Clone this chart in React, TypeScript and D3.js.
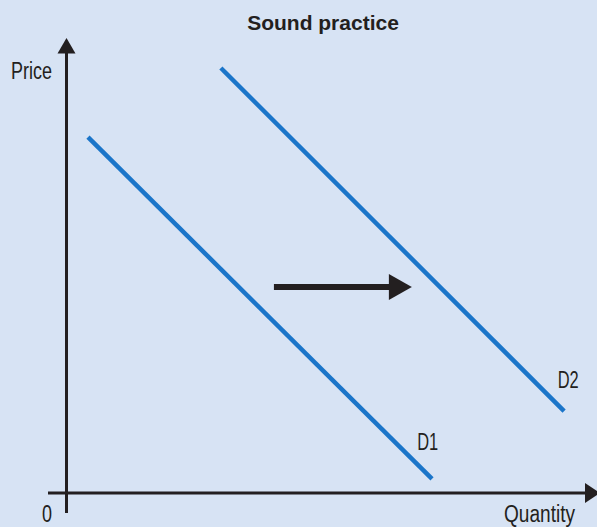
import React from "react";
import * as d3 from "d3";

const W = 597;
const H = 527;

// Abstract quantity/price units (0–100 on each axis)
const demandNames = ["D1", "D2"];
const demandStart = [
  [4.05, 78.2],
  [29.1, 93.4],
];
const demandEnd = [
  [68.9, 3.1],
  [93.8, 18.0],
];
const labelPos = [
  [66.1, 9.5],
  [92.6, 23.1],
];
const shiftArrowX = [39.1, 65.1];
const shiftArrowY = 45.3;

const axisLabels = { y: "Price", x: "Quantity", origin: "0" };
const title = "Sound practice";

const BG = "#d7e3f4";
const INK = "#231f20";
const BLUE = "#1b75c9";
const SANS = "'Liberation Sans', Arial, sans-serif";

function Narrow(props: { x: number; y: number; w: number; anchor?: string; children: string }) {
  return (
    <text
      x={props.x}
      y={props.y}
      textAnchor={props.anchor || "start"}
      fontFamily={SANS}
      fontSize={23}
      fill={INK}
      textLength={props.w}
      lengthAdjust="spacingAndGlyphs"
    >
      {props.children}
    </text>
  );
}

export default function App() {
  const x = d3.scaleLinear().domain([0, 100]).range([66.5, 597]);
  const y = d3.scaleLinear().domain([0, 100]).range([493, 38]);
  const line = d3.line<number[]>().x((d) => x(d[0])).y((d) => y(d[1]));

  const ax0 = x(0);
  const ay0 = y(0);
  const ayTop = y(100);

  const arrX0 = x(shiftArrowX[0]);
  const arrX1 = x(shiftArrowX[1]);
  const arrY = y(shiftArrowY);

  return (
    <svg
      width={W}
      height={H}
      style={{ position: "absolute", left: 0, top: 0, display: "block" }}
    >
      <rect x={0} y={0} width={W} height={H} fill={BG} />
      <text
        x={323}
        y={30}
        textAnchor="middle"
        fontFamily={SANS}
        fontWeight="bold"
        fontSize={21}
        fill={INK}
      >
        {title}
      </text>

      {/* Axes */}
      <line x1={ax0} y1={ayTop + 14} x2={ax0} y2={513} stroke={INK} strokeWidth={3} />
      <path
        d={`M${ax0},${ayTop} L${ax0 + 9},${ayTop + 15.5} L${ax0 - 9},${ayTop + 15.5} Z`}
        fill={INK}
      />
      <line x1={48} y1={ay0} x2={587} y2={ay0} stroke={INK} strokeWidth={3} />
      <path d={`M600,${ay0} L585,${ay0 - 10} L585,${ay0 + 10} Z`} fill={INK} />

      <Narrow x={11} y={79} w={41}>{axisLabels.y}</Narrow>
      <Narrow x={42} y={522} w={10}>{axisLabels.origin}</Narrow>
      <Narrow x={504} y={522} w={71}>{axisLabels.x}</Narrow>

      {/* Demand curves */}
      {demandNames.map((name, i) => (
        <g key={name}>
          <path
            d={line([demandStart[i], demandEnd[i]]) || ""}
            stroke={BLUE}
            strokeWidth={4.5}
            fill="none"
          />
          <Narrow x={x(labelPos[i][0])} y={y(labelPos[i][1])} w={21}>
            {name}
          </Narrow>
        </g>
      ))}

      {/* Shift arrow */}
      <line x1={arrX0} y1={arrY} x2={arrX1 - 20} y2={arrY} stroke={INK} strokeWidth={6} />
      <path
        d={`M${arrX1},${arrY} L${arrX1 - 23},${arrY - 13} L${arrX1 - 23},${arrY + 13} Z`}
        fill={INK}
      />
    </svg>
  );
}
